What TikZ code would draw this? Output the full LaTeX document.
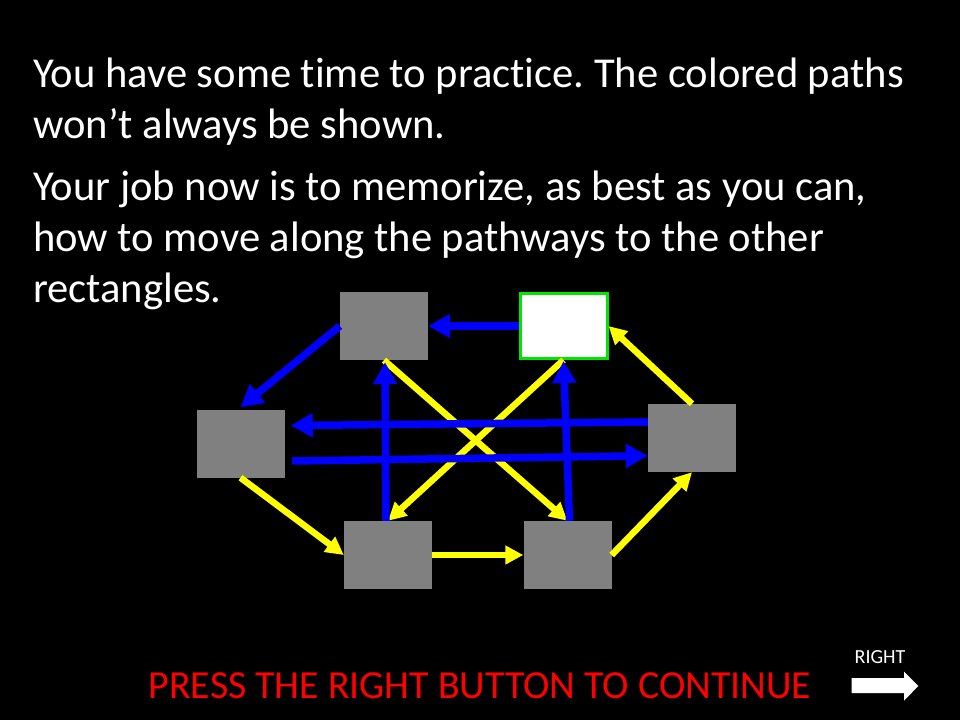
\documentclass[tikz,border=0pt]{standalone}
\usepackage{fontspec}
\setmainfont{Carlito}[Ligatures=NoCommon]
\usetikzlibrary{arrows.meta}
\definecolor{boxgray}{RGB}{128,128,128}
\definecolor{pblue}{RGB}{0,0,255}
\definecolor{pyellow}{RGB}{255,255,0}
\definecolor{pgreen}{RGB}{0,230,0}
\definecolor{pred}{RGB}{255,0,0}
\tikzset{
  graybox/.style={fill=boxgray, draw=none, inner sep=0pt, minimum width=88pt, minimum height=68pt},
  whitebox/.style={fill=white, draw=pgreen, line width=3pt, inner sep=0pt, minimum width=87pt, minimum height=65pt},
  bluearr/.style={draw=pblue, line width=7.5pt, -{Triangle[length=22pt,width=23pt]}},
  yelarr/.style={draw=pyellow, line width=6.5pt, -{Triangle[length=18pt,width=18pt]}},
  bodytext/.style={text=white, anchor=base west, inner sep=0pt, font=\fontsize{42.6}{50}\selectfont},
}
\frenchspacing
\begin{document}
\begin{tikzpicture}[x=1pt,y=-1pt]
\fill[black] (0,0) rectangle (960,720);
\useasboundingbox (0,0) rectangle (960,720);
\node[bodytext] (t1) at (33,87) {You have some time to practice. The colored paths};
\node[bodytext] (t2) at (33,138) {won’t always be shown.};
\node[bodytext] (t3) at (33,200) {Your job now is to memorize, as best as you can,};
\node[bodytext] (t4) at (33,251) {how to move along the pathways to the other};
\node[bodytext] (t5) at (33,302) {rectangles.};

\node[graybox] (A) at (384,326) {};
\node[whitebox] (W) at (563.5,326) {};
\node[graybox] (L) at (240.5,443.5) {};
\node[graybox] (R) at (692,438) {};
\node[graybox] (BL) at (388,555) {};
\node[graybox] (BR) at (567.5,555) {};

% yellow paths
\draw[yelarr] (A.south) -- (BR.north);
\draw[yelarr] (W.south) -- (BL.north);
\draw[yelarr] (R.north) -- (W.east);
\draw[yelarr] (L.south) -- (BL.west);
\draw[yelarr] (BL.east) -- (BR.west);
\draw[yelarr] (BR.east) -- (R.south);

% blue paths
\draw[bluearr] (W.west) -- (A.east);
\draw[bluearr] (A.west) -- ([yshift=2pt]L.north);
\draw[bluearr] ([yshift=16pt]R.west) -- ([xshift=6pt,yshift=18pt]L.east);
\draw[bluearr] ([xshift=7.5pt,yshift=-17.5pt]L.east) -- ([yshift=-17.7pt]R.west);
\draw[bluearr] ([xshift=-2pt]BL.north) -- ([xshift=1pt,yshift=-2pt]A.south);
\draw[bluearr] ([xshift=2pt]BR.north) -- ([yshift=-1pt]W.south);

\node[text=pred, anchor=base, inner sep=0pt, font=\fontsize{39.8}{46}\selectfont] (press) at (480,698) {PRESS THE RIGHT BUTTON TO CONTINUE};
\node[text=white, anchor=base, inner sep=0pt, font=\fontsize{20}{24}\selectfont] (right) at (880,663) {RIGHT};
\fill[white] (851.7,678) -- (904,678) -- (904,671.7) -- (918.3,686) -- (904,700.7) -- (904,693) -- (851.7,693) -- cycle;
\end{tikzpicture}
\end{document}
